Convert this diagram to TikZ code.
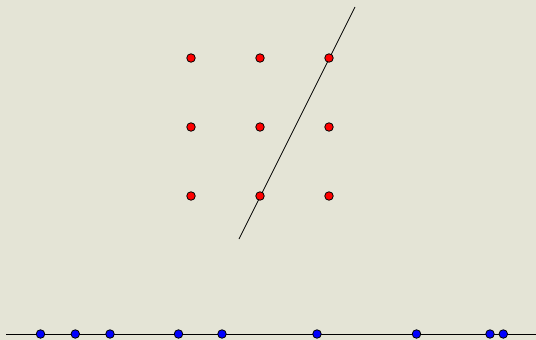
\documentclass[tikz,border=0pt]{standalone}
\definecolor{bg}{HTML}{E4E4D6}
\definecolor{dotred}{HTML}{FF0000}
\definecolor{dotblue}{HTML}{0000FF}
\begin{document}
\begin{tikzpicture}[x=1pt,y=-1pt,
  reddot/.style={circle,fill=dotred,draw=black,line width=0.8pt,inner sep=0pt,minimum size=8.5pt},
  bluedot/.style={circle,fill=dotblue,draw=black,line width=0.8pt,inner sep=0pt,minimum size=8.5pt},
  ln/.style={draw=black,line width=0.7pt}]
\fill[bg] (0,0) rectangle (536,340);
\useasboundingbox (0,0) rectangle (536,340);
\coordinate (la) at (239,239);
\coordinate (lb) at (355,7);
\draw[ln] (la) -- (lb);
\coordinate (ba) at (6,334);
\coordinate (bb) at (536,334);
\draw[ln] (ba) -- (bb);
\foreach \i/\x in {1/191,2/260,3/329}
  \foreach \j/\y in {1/58,2/127,3/196}
    \node[reddot] (r\i\j) at (\x,\y) {};
\foreach \k/\x in {1/40.5,2/75.3,3/110,4/178.5,5/222,6/317,7/416.5,8/490,9/503.3}
  \node[bluedot] (b\k) at (\x,334) {};
\end{tikzpicture}
\end{document}
